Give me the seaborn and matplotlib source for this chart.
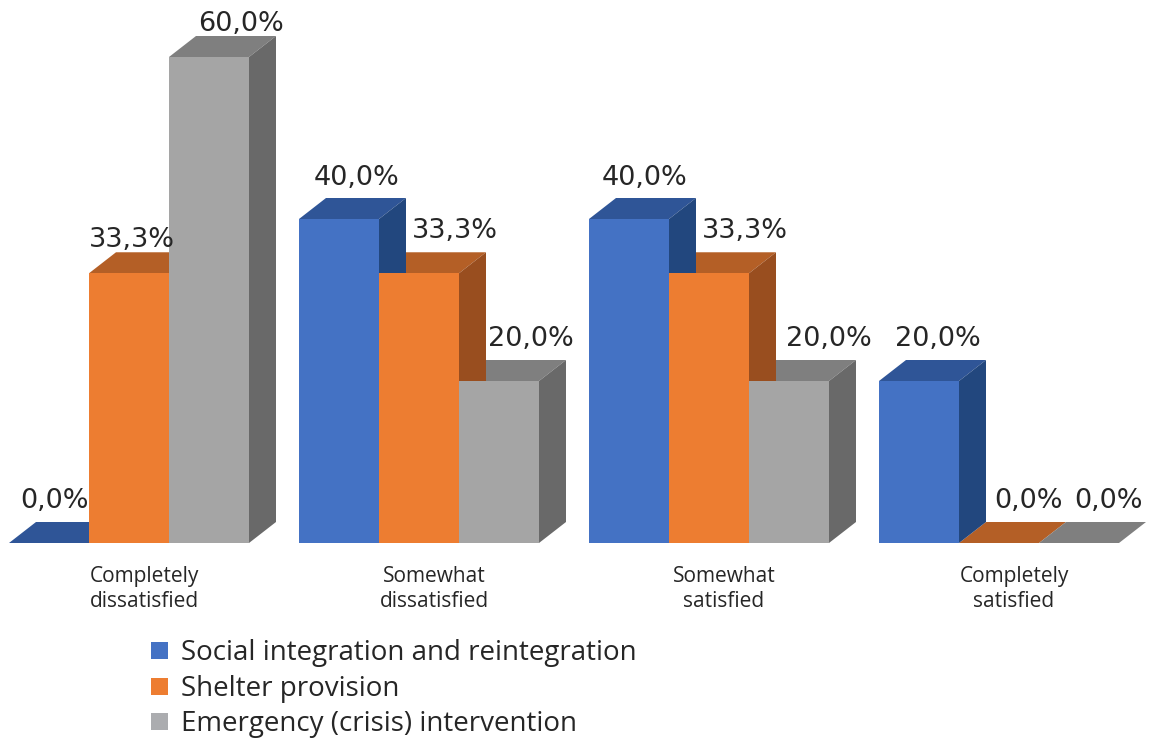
import numpy as np
import pandas as pd
import matplotlib
matplotlib.use('Agg')
import matplotlib.pyplot as plt
from matplotlib.patches import Polygon, Patch
import seaborn as sns

# data
categories = ['Completely\ndissatisfied', 'Somewhat\ndissatisfied',
              'Somewhat\nsatisfied', 'Completely\nsatisfied']
series = ['Social integration and reintegration', 'Shelter provision',
          'Emergency (crisis) intervention']
social = [0.0, 40.0, 40.0, 20.0]
shelter = [33.3, 33.3, 33.3, 0.0]
emergency = [60.0, 20.0, 20.0, 0.0]

# colours: front, top, side
front_cols = ['#4472C4', '#ED7D31', '#A5A5A5']
top_cols = ['#2F5597', '#B45F26', '#7F7F7F']
side_cols = ['#22477E', '#994E1F', '#696969']
legend_cols = ['#4472C4', '#ED7D31', '#ABACAF']

df = pd.DataFrame({
    'cat': np.repeat(categories, 3),
    'series': series * 4,
    'val': np.ravel(np.column_stack([social, shelter, emergency])),
})

W, H = 1154, 740
plt.rcParams['font.family'] = ['Open Sans', 'DejaVu Sans']
fig = plt.figure(figsize=(W / 100, H / 100), dpi=100)
ax = fig.add_axes([0, 0, 1, 1])

# pixel geometry of the reference
px_unit = 290.0          # px per category
px_pct = 8.1             # px per percent
base_px = 543            # baseline from top
first_center = 129

sns.barplot(data=df, x='cat', y='val', hue='series', hue_order=series,
            palette=front_cols, width=240 / 290, linewidth=0,
            legend=False, ax=ax, saturation=1)

ax.set_xlim(-first_center / px_unit, (W - first_center) / px_unit)
ax.set_ylim(-(H - base_px) / px_pct, base_px / px_pct)
ax.axis('off')

dx = 27 / px_unit
dy = 21 / px_pct

# label nudges (px) for each series / group
nudge_x = [[6, 18, 16, 19], [3, 36, 36, 30], [32, 32, 40, 30]]
nudge_y = [[0, -1, -1, 0], [-9, 0, 0, 0], [-9, 0, 0, 0]]

for s, cont in enumerate(ax.containers):
    for g, bar in enumerate(cont.patches):
        x0 = bar.get_x()
        x1 = x0 + bar.get_width()
        h = bar.get_height()
        bar.set_zorder(3)
        top = Polygon([(x0, h), (x1, h), (x1 + dx, h + dy), (x0 + dx, h + dy)],
                      closed=True, facecolor=top_cols[s], edgecolor='none', zorder=1)
        ax.add_patch(top)
        if h > 0:
            side = Polygon([(x1, 0), (x1 + dx, dy), (x1 + dx, h + dy), (x1, h)],
                           closed=True, facecolor=side_cols[s], edgecolor='none', zorder=2)
            ax.add_patch(side)
        lbl = f'{h:.1f}'.replace('.', ',') + '%'
        ax.text((x0 + x1) / 2 + nudge_x[s][g] / px_unit,
                h + dy + 1.0 + nudge_y[s][g] / px_pct, lbl,
                ha='center', va='bottom', fontsize=19.5, color='#262626', zorder=5,
                family='DejaVu Sans')

for g, cat in enumerate(categories):
    ax.text(g + 15 / px_unit, -46 / px_pct, cat, ha='center', va='center',
            fontsize=15, color='#262626', linespacing=1.2)

handles = [Patch(facecolor=c, edgecolor='none') for c in legend_cols]
fig.legend(handles, series, loc='upper left', bbox_to_anchor=(132 / W, 1 - 620 / H),
           frameon=False, fontsize=20, handlelength=0.58, handleheight=0.58,
           handletextpad=0.5, labelspacing=0.27, labelcolor='#262626',
           borderpad=0.2)

fig.savefig('out.png', dpi=100)
plt.close(fig)
